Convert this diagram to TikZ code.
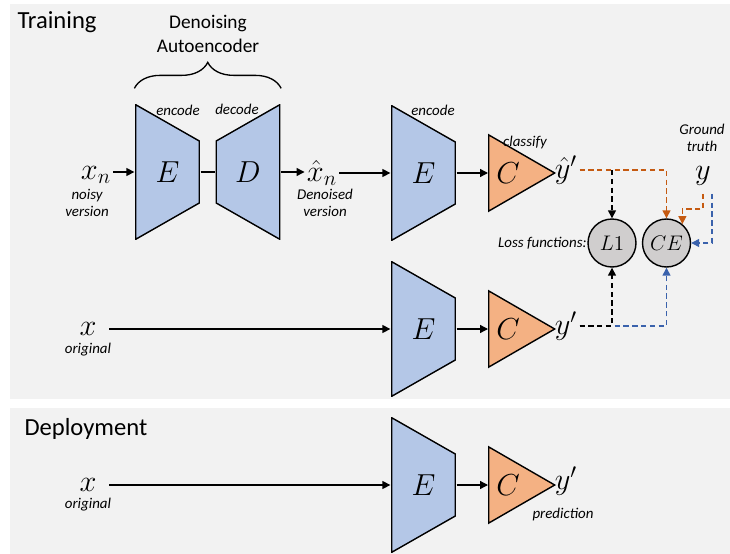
\documentclass[tikz,border=0pt]{standalone}
\usepackage{fontspec}
\setmainfont{Carlito}
\usepackage{tikz}
\usetikzlibrary{positioning, shapes.geometric, arrows.meta, decorations.pathreplacing}

\definecolor{encblue}{HTML}{B4C7E7}
\definecolor{clsorange}{HTML}{F4B183}
\definecolor{lossgray}{HTML}{D0CECE}
\definecolor{panelgray}{HTML}{F2F2F2}
\definecolor{ceorange}{HTML}{C55A11}
\definecolor{ceblue}{HTML}{3A62AC}

\newcommand{\symfont}{\fontsize{18}{20}\selectfont}
\newcommand{\tagfont}{\fontsize{8.5}{10}\selectfont\itshape}

\begin{document}
\begin{tikzpicture}[x=0.02cm, y=-0.02cm, line width=0.75pt,
    >={Triangle[length=4.5pt, width=4.5pt]},
    % encoder: long side on the left, decoder: long side on the right
    enc/.style={minimum width=1.3cm, minimum height=2.72cm, inner sep=0pt,
      font=\symfont,
      path picture={\draw[fill=encblue, line width=0.8pt]
        ([xshift=0.4pt, yshift=-0.4pt]path picture bounding box.north west)
        -- ([xshift=-0.4pt, yshift=-0.74cm]path picture bounding box.north east)
        -- ([xshift=-0.4pt, yshift=0.74cm]path picture bounding box.south east)
        -- ([xshift=0.4pt, yshift=0.4pt]path picture bounding box.south west)
        -- cycle;}},
    dec/.style={minimum width=1.3cm, minimum height=2.72cm, inner sep=0pt,
      font=\symfont,
      path picture={\draw[fill=encblue, line width=0.8pt]
        ([xshift=0.4pt, yshift=-0.74cm]path picture bounding box.north west)
        -- ([xshift=-0.4pt, yshift=-0.4pt]path picture bounding box.north east)
        -- ([xshift=-0.4pt, yshift=0.4pt]path picture bounding box.south east)
        -- ([xshift=0.4pt, yshift=0.74cm]path picture bounding box.south west)
        -- cycle;}},
    cls/.style={isosceles triangle, isosceles triangle apex angle=60, draw,
      fill=clsorange, line width=0.8pt, minimum height=1.32cm, inner sep=1pt,
      anchor=west, font=\symfont},
    loss/.style={circle, draw, fill=lossgray, line width=0.8pt,
      minimum size=0.96cm, inner sep=0pt, font=\fontsize{13}{15}\selectfont},
    sym/.style={font=\symfont, inner sep=1pt},
    tag/.style={font=\tagfont, align=center, inner sep=0pt},
    title/.style={font=\fontsize{14}{16}\selectfont, anchor=west},
    odash/.style={ceorange, dash pattern=on 3pt off 2pt, ->},
    bdash/.style={ceblue, dash pattern=on 3pt off 2pt, ->},
    kdash/.style={black, dash pattern=on 3pt off 2pt, ->}]

    \useasboundingbox (0,0) rectangle (730,554);

    % panels
    \fill[panelgray] (10,4) rectangle (730,399);
    \fill[panelgray] (10,408) rectangle (730,554);
    \node[title] (train) at (11,22) {Training};
    \node[title] (deploy) at (18,429) {Deployment};

    % Denoising autoencoder
    \node[sym] (xn) at (96,175) {$x_n$};
    \node[tag] (xnnote) at (87,203) {noisy\\version};
    \node[enc] (ae) at (167.5,172) {$E$};
    \node[dec] (ad) at (248,172) {$D$};
    \node[tag] (aenc) at (178,110) {encode};
    \node[tag] (adec) at (237,109) {decode};
    \draw (ae) -- (ad);
    \draw[->] (xn.east |- ae) -- (ae);
    \draw[decorate, decoration={brace, amplitude=0.52cm}]
        ([yshift=0.3cm]ae.north west) -- ([yshift=0.3cm]ad.north east);
    \node[align=center, font=\fontsize{11}{14}\selectfont] (dae) at (208,34) {Denoising\\Autoencoder};

    % Denoised input through the encoder/classifier
    \node[sym] (xhat) at (322,173) {$\hat{x}_n$};
    \node[tag] (xhatnote) at (325,203) {Denoised\\version};
    \draw[->] (ad) -- (ad -| xhat.west);
    \node[enc] (enc1) at (423.5,173) {$E$};
    \node[tag] (enc1note) at (433,110) {encode};
    \draw[->] (xhat.east |- enc1) -- (enc1);
    \node[cls] (c1) at (488,173) {$C$};
    \node[tag] (c1note) at (525,143) {classify};
    \draw[->] (enc1.east) -- (c1.west);
    \node[sym] (yhat) at (566,170) {$\hat{y}'$};

    % Ground truth
    \node[tag] (gtnote) at (702,138) {Ground\\truth};
    \node[sym] (ytrue) at (703,176) {$y$};

    % Loss functions
    \node[loss] (L1) at (612,243) {$L1$};
    \node[loss] (CE) at (666.5,243) {$CE$};
    \node[tag, anchor=east] (lossnote) at (L1.west) {Loss functions:};

    % Original input through the encoder/classifier
    \node[sym] (x1) at (88,329) {$x$};
    \node[tag] (x1note) at (88,350) {original};
    \node[enc] (enc2) at (423.5,329) {$E$};
    \draw[->, shorten <=6pt] (x1) -- (x1 -| enc2.west);
    \node[cls] (c2) at (488,329) {$C$};
    \draw[->] (enc2.east) -- (c2.west);
    \node[sym] (yp1) at (566,326) {$y'$};

    % loss connections
    \coordinate (tap1) at (yhat.east -| L1);
    \draw[odash] (yhat.east) -| (CE);
    \draw[kdash] (tap1) -- (L1);
    \draw[odash] ([yshift=-0.12cm]ytrue.south) -- ++(0cm,-0.3cm) -| (CE.50);
    \draw[bdash] ([xshift=0.18cm, yshift=-0.12cm]ytrue.south) |- (CE);
    \draw[bdash] (yp1.east) -| (CE);
    \draw[kdash] (yp1.east) -| (L1);

    % Deployment
    \node[sym] (x2) at (88,485) {$x$};
    \node[tag] (x2note) at (88,505) {original};
    \node[enc] (enc3) at (423.5,485) {$E$};
    \draw[->, shorten <=6pt] (x2) -- (enc3);
    \node[cls] (c3) at (488,485) {$C$};
    \draw[->] (enc3.east) -- (c3.west);
    \node[sym] (yp2) at (566,481) {$y'$};
    \node[tag] (yp2note) at (563,515) {prediction};

\end{tikzpicture}
\end{document}
